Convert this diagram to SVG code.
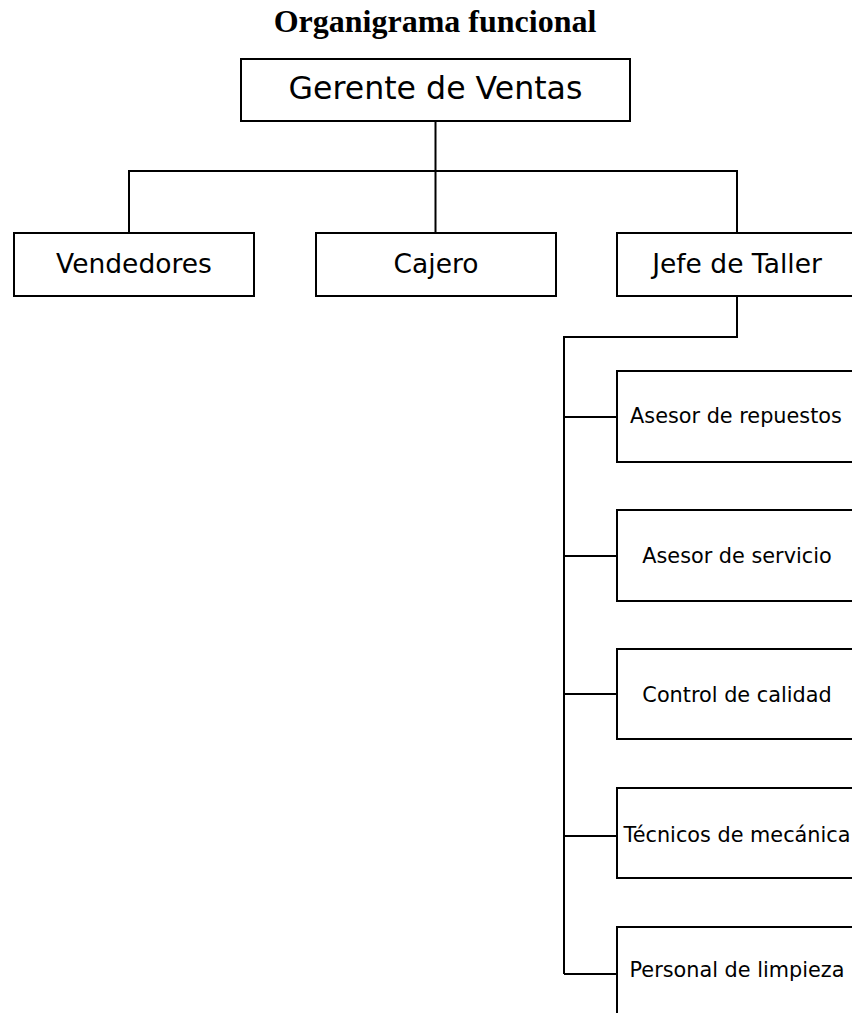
<svg xmlns="http://www.w3.org/2000/svg" width="852" height="1013" viewBox="0 0 852 1013">
<style>
.box{fill:#fff;stroke:#000;stroke-width:2}
.lbl{font-family:"DejaVu Sans",sans-serif;fill:#000;text-anchor:middle}
.l1{font-size:31.6px}
.l2{font-size:26.5px}
.l3{font-size:20.8px}
.title{font-family:"Liberation Serif","Times New Roman",serif;font-weight:bold;font-size:32px;text-anchor:middle;fill:#000}
.conn{fill:none;stroke:#000;stroke-width:2}
</style>
<rect width="852" height="1013" fill="#fff"/>
<text class="title" x="435" y="32">Organigrama funcional</text>
<g id="connectors">
<path class="conn" d="M435.5 121V171M129 233V171H737V233M435.5 171V233"/>
<path class="conn" d="M737 296V337H564V974"/>
<path class="conn" d="M564 417H617M564 556H617M564 694H617M564 836H617M564 974H617"/>
</g>
<g id="gerente"><rect class="box" x="241" y="59" width="389" height="62"/><text class="lbl l1" x="435.5" y="99">Gerente de Ventas</text></g>
<g id="vendedores"><rect class="box" x="14" y="233" width="240" height="63"/><text class="lbl l2" x="134" y="273">Vendedores</text></g>
<g id="cajero"><rect class="box" x="316" y="233" width="240" height="63"/><text class="lbl l2" x="436" y="273">Cajero</text></g>
<g id="jefe"><rect class="box" x="617" y="233" width="240" height="63"/><text class="lbl l2" x="737" y="273">Jefe de Taller</text></g>
<g id="repuestos"><rect class="box" x="617" y="371" width="240" height="91"/><text class="lbl l3" x="736" y="423">Asesor de repuestos</text></g>
<g id="servicio"><rect class="box" x="617" y="510" width="240" height="91"/><text class="lbl l3" x="737" y="563">Asesor de servicio</text></g>
<g id="calidad"><rect class="box" x="617" y="649" width="240" height="90"/><text class="lbl l3" x="737" y="702">Control de calidad</text></g>
<g id="tecnicos"><rect class="box" x="617" y="788" width="240" height="90"/><text class="lbl l3" x="737" y="842">Técnicos de mecánica</text></g>
<g id="limpieza"><rect class="box" x="617" y="927" width="240" height="91"/><text class="lbl l3" x="737" y="977">Personal de limpieza</text></g>
</svg>
